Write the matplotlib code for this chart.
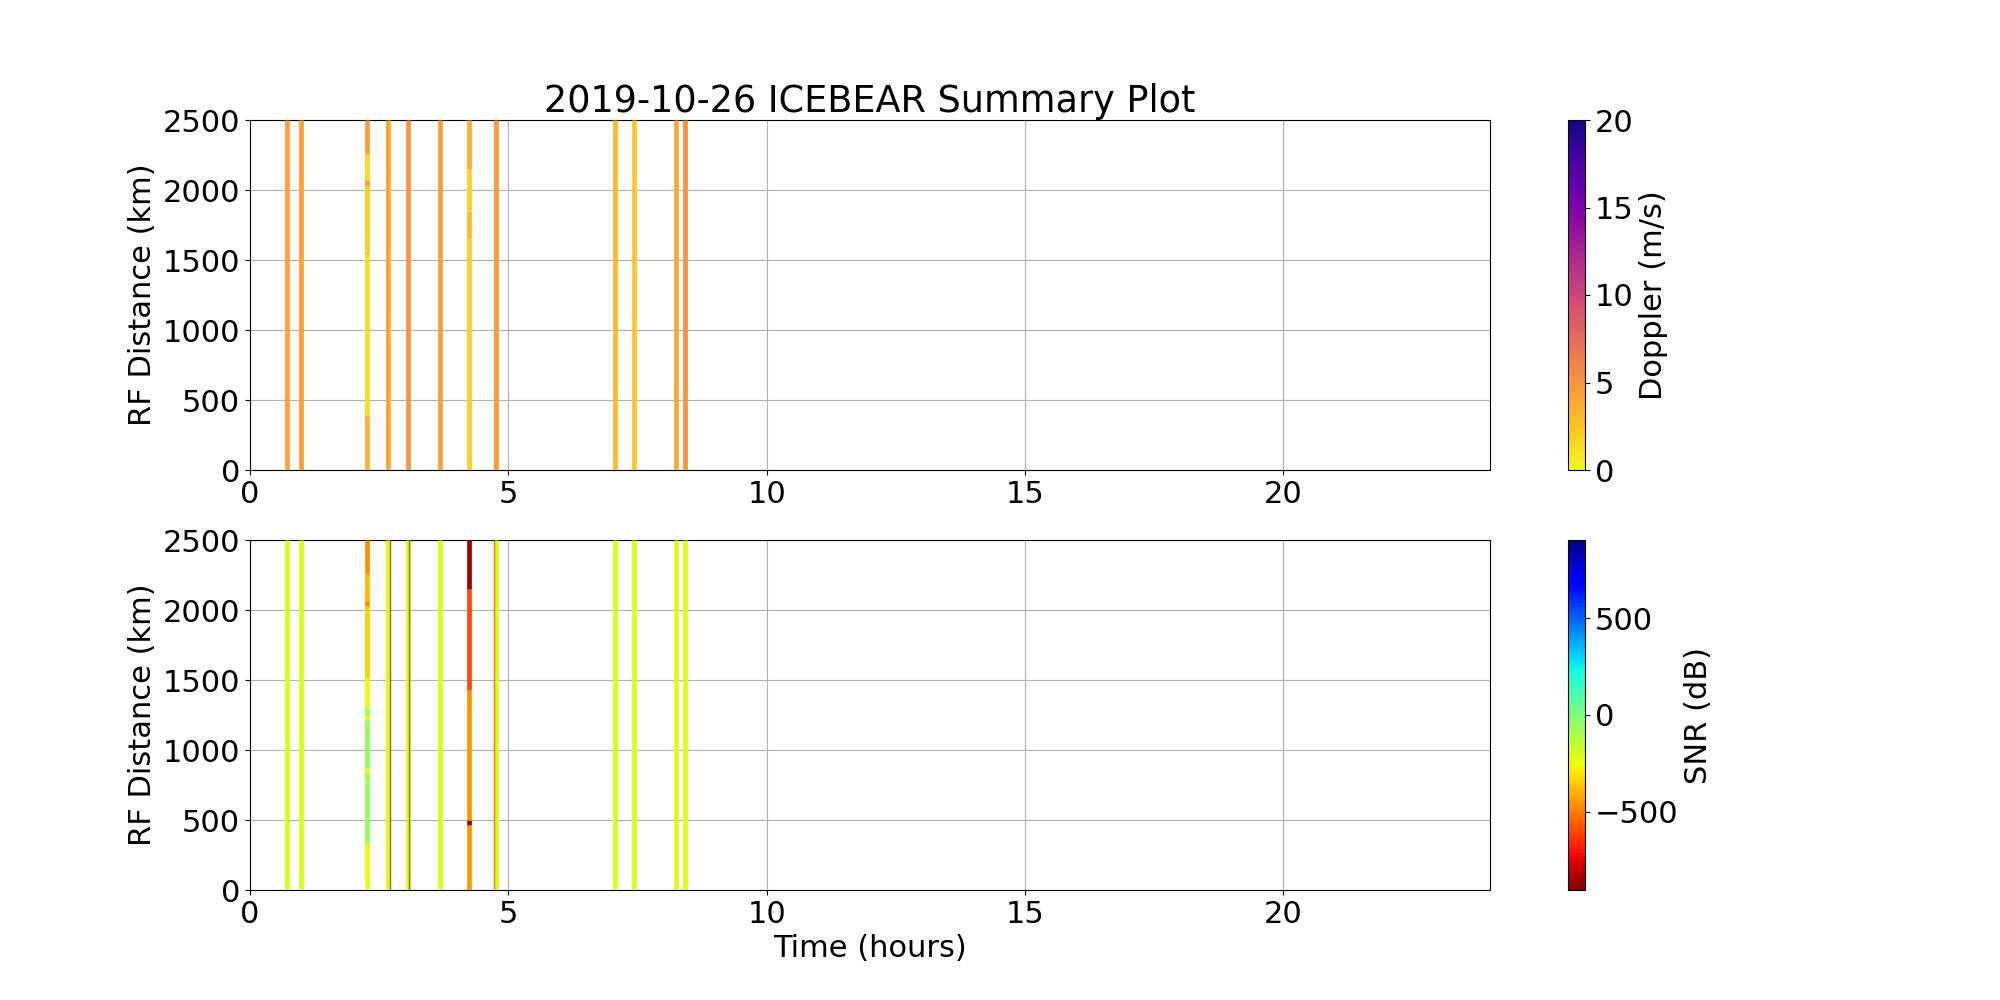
import numpy as np
import matplotlib
matplotlib.use("Agg")
import matplotlib.pyplot as plt

plt.rcParams["font.size"] = 22

# Time of each detection stripe (hours), full-height stripes
stripe_time = [0.72, 0.98, 2.68, 3.05, 3.67, 4.76, 7.07, 7.44, 8.24, 8.41]
stripe_doppler = [4.3, 4.3, 4.2, 4.8, 4.5, 4.6, 3.0, 2.4, 4.0, 5.0]
stripe_snr = [-210, -210, -210, -210, -210, -210, -210, -210, -215, -210]

# Stripes with varying values along range: (time, start km, end km, value)
dop_seg_time = [2.26, 2.26, 2.26, 2.26, 2.26, 2.26, 4.23, 4.23, 4.23, 4.23]
dop_seg_start = [0, 394, 1539, 2028, 2075, 2254, 0, 1650, 1850, 2150]
dop_seg_end = [394, 1539, 2028, 2075, 2254, 2500, 1650, 1850, 2150, 2500]
dop_seg_value = [3.5, 1.3, 2.0, 4.5, 1.5, 4.5, 2.0, 2.8, 1.8, 3.6]

snr_seg_time = [2.26] * 13 + [4.23] * 5
snr_seg_start = [0, 346, 775, 787, 835, 870, 1217, 1240, 1300, 1515, 2028, 2075, 2254,
                 0, 465, 501, 1431, 2147]
snr_seg_end = [346, 775, 787, 835, 870, 1217, 1240, 1300, 1515, 2028, 2075, 2254, 2500,
               465, 501, 1431, 2147, 2500]
snr_seg_value = [-235, -50, -235, -50, -235, -50, -235, -50, -235, -336, -470, -380, -470,
                 -440, -850, -450, -596, -860]

# thin overlapping stripes at the edges of some detections
edge_time = [2.70, 3.085, 4.73]
edge_doppler = [2.0, 5.5, 4.8]
edge_snr = [-903, -903, -700]

RANGE_MAX = 2500
SNR_LIM = 903


def draw_panel(fig, ax, seg_t, seg_a, seg_b, seg_v, full_t, full_v, e_t, e_v,
               cmap, vmin, vmax, label):
    t = list(seg_t) + list(full_t)
    a = list(seg_a) + [0] * len(full_t)
    b = list(seg_b) + [RANGE_MAX] * len(full_t)
    v = list(seg_v) + list(full_v)
    lc = ax.vlines(t, a, b, linewidth=3.4, zorder=3)
    lc.set_array(np.asarray(v, dtype=float))
    lc.set_cmap(cmap)
    lc.set_clim(vmin, vmax)

    lc2 = ax.vlines(e_t, 0, RANGE_MAX, linewidth=1.0, alpha=0.6, zorder=3)
    lc2.set_array(np.asarray(e_v, dtype=float))
    lc2.set_cmap(cmap)
    lc2.set_clim(vmin, vmax)

    ax.set_xlim(0, 24)
    ax.set_ylim(0, RANGE_MAX)
    ax.set_ylabel("RF Distance (km)")
    ax.grid(True)
    ax.set_axisbelow(True)
    cbar = fig.colorbar(lc, ax=ax)
    cbar.set_label(label)
    return cbar


def main():
    fig, (ax1, ax2) = plt.subplots(2, 1, figsize=(20, 10), dpi=100)

    draw_panel(fig, ax1, dop_seg_time, dop_seg_start, dop_seg_end, dop_seg_value,
               stripe_time, stripe_doppler, edge_time, edge_doppler,
               "plasma_r", 0, 20, "Doppler (m/s)")
    ax1.set_title("2019-10-26 ICEBEAR Summary Plot")

    draw_panel(fig, ax2, snr_seg_time, snr_seg_start, snr_seg_end, snr_seg_value,
               stripe_time, stripe_snr, edge_time, edge_snr,
               "jet_r", -SNR_LIM, SNR_LIM, "SNR (dB)")
    ax2.set_xlabel("Time (hours)")

    plt.savefig("out.png")


if __name__ == "__main__":
    main()
